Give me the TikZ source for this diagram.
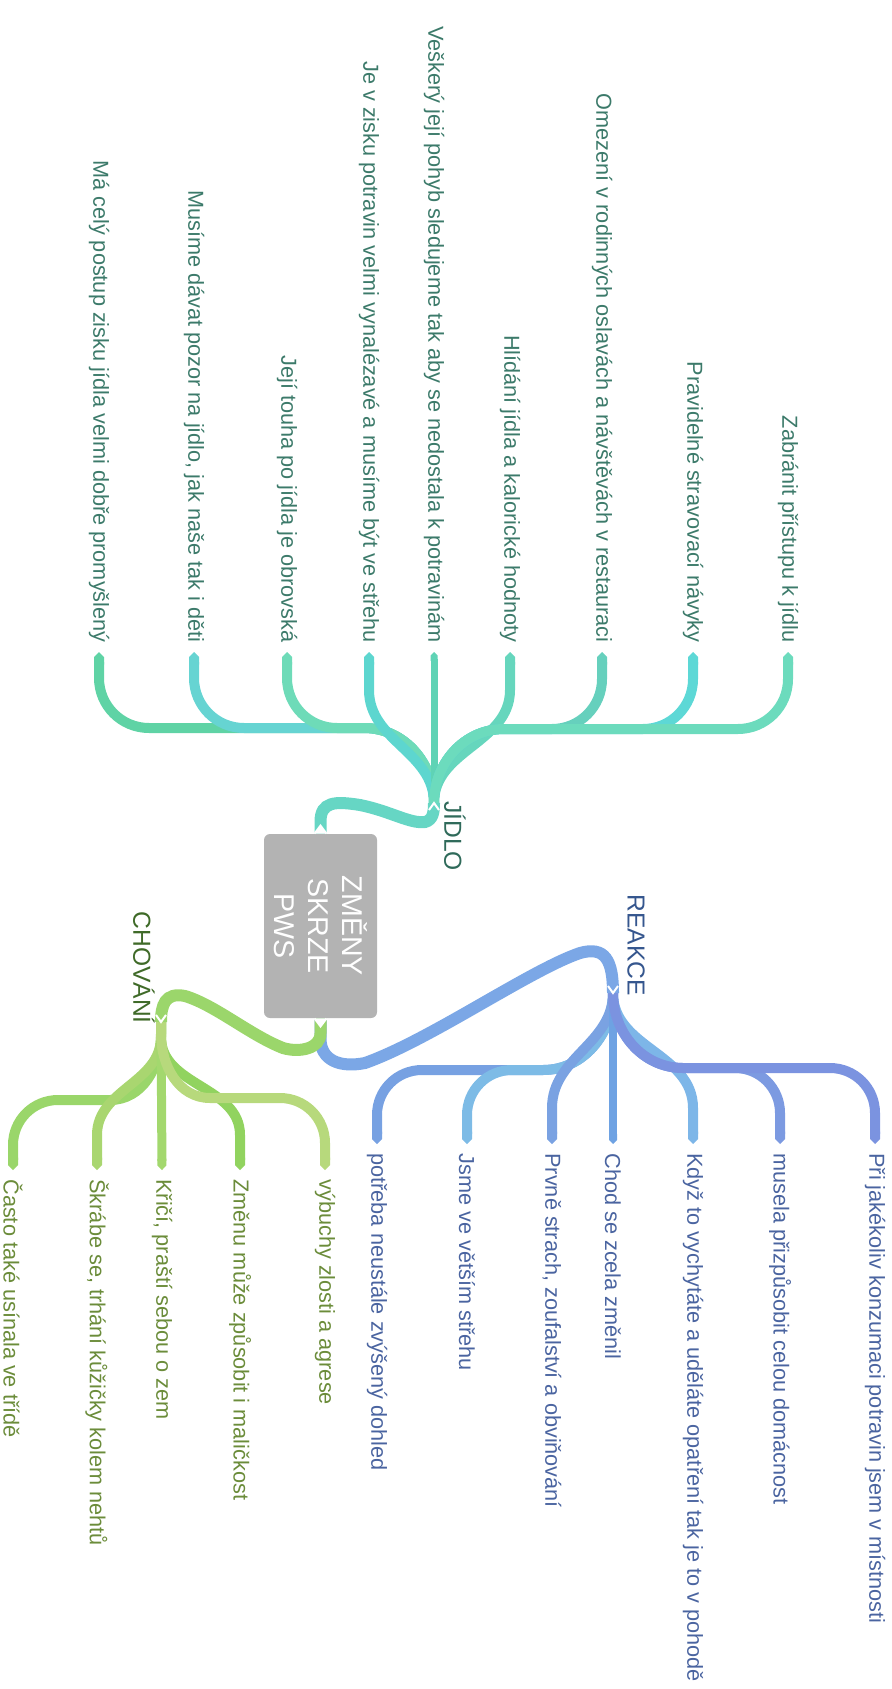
\documentclass[tikz,border=0pt]{standalone}
\usepackage{fontspec}
\setmainfont{Liberation Sans}
\usepackage{xcolor}
\usepackage{tikz}
\usetikzlibrary{arrows.meta}

\definecolor{centregray}{HTML}{B3B3B3}
\definecolor{jidloline}{HTML}{66D6C4}
\definecolor{chovline}{HTML}{9BD66B}
\definecolor{reakline}{HTML}{7BA7E6}
\definecolor{jidlotext}{HTML}{3C7A6A}
\definecolor{jidlolabel}{HTML}{2F6A5A}
\definecolor{chovtext}{HTML}{6B8C3A}
\definecolor{chovlabel}{HTML}{3F6A28}
\definecolor{reaktext}{HTML}{4A64A0}
\definecolor{reaklabel}{HTML}{35568E}
% leaf colours
\definecolor{jA}{HTML}{5FD3A5}\definecolor{jB}{HTML}{66D4D2}\definecolor{jC}{HTML}{6EDBB8}
\definecolor{jD}{HTML}{5DD6CF}\definecolor{jE}{HTML}{5FD3B5}\definecolor{jF}{HTML}{66D6BD}
\definecolor{jG}{HTML}{66D0BD}\definecolor{jH}{HTML}{5DD8D6}\definecolor{jI}{HTML}{6CDBBD}
\definecolor{cA}{HTML}{9AD66A}\definecolor{cB}{HTML}{A9D670}\definecolor{cC}{HTML}{A3D86E}
\definecolor{cD}{HTML}{91D35F}\definecolor{cE}{HTML}{B7D97C}
\definecolor{rA}{HTML}{77A1E2}\definecolor{rB}{HTML}{7DBBE6}\definecolor{rC}{HTML}{7AA2E2}
\definecolor{rD}{HTML}{6EA2E3}\definecolor{rE}{HTML}{7DB6E8}\definecolor{rF}{HTML}{7C9AE1}
\definecolor{rG}{HTML}{7B93E0}

\begin{document}
\begin{tikzpicture}[x=0.5pt, y=0.5pt,
    leaf/.style={line width=5pt, -{Triangle Cap[]}},
    mainline/.style={line width=6pt},
    leaftext/.style={rotate=-90, font=\fontsize{10.85}{13}\selectfont, inner xsep=4.5pt, inner ysep=0pt},
    bigtext/.style={rotate=-90, font=\fontsize{12.3}{14}\selectfont, inner sep=0pt},
    notch/.style={white, line width=1pt}]
    \useasboundingbox (0,0) rectangle (892,-1689);

    \node (centre) [fill=centregray, rounded corners=3pt, rotate=-90, minimum width=92pt, minimum height=56.5pt,
        text=white, align=center, font=\fontsize{14.3}{17}\selectfont] at (320.5,-926) {ZMĚNY\\SKRZE\\PWS};

    \coordinate (jidlo hub) at (434,-803);
    \coordinate (chov hub) at (161,-1022);
    \coordinate (reak hub) at (613,-993);

    \node (jidlo) [bigtext, text=jidlolabel, anchor=west] at (455,-801) {JÍDLO};
    \node (reakce) [bigtext, text=reaklabel, anchor=east] at (636,-996) {REAKCE};
    \node (chovani) [bigtext, text=chovlabel, anchor=east] at (144,-1024) {CHOVÁNÍ};

    % JIDLO
    \foreach \nm/\x/\col/\txt in {j1/99/jA/{Má celý postup zisku jídla velmi dobře promyšlený},
        j2/194/jB/{Musíme dávat pozor na jídlo, jak naše tak i děti},
        j3/287/jC/{Její touha po jídla je obrovská}} {
        \node (\nm) [leaftext, text=jidlotext, anchor=east] at (\x,-652) {\txt};
        \draw[leaf, draw=\col] (jidlo hub) to[out=90,in=0] (364,-728) -- (\x+50,-728) to[out=180,in=-90] (\x,-678) -- (\nm.east);
    }
    \foreach \nm/\x/\col/\txt in {j4/369/jD/{Je v zisku potravin velmi vynalézavé a musíme být ve střehu},
        j6/510/jF/{Hlídání jídla a kalorické hodnoty}} {
        \node (\nm) [leaftext, text=jidlotext, anchor=east] at (\x,-652) {\txt};
        \draw[leaf, draw=\col] (jidlo hub) to[out=90,in=-90] (\x,-690) -- (\nm.east);
    }
    \node (j5) [leaftext, text=jidlotext, anchor=east] at (434,-652) {Veškerý její pohyb sledujeme tak aby se nedostala k potravinám};
    \draw[leaf, draw=jE, line width=3.5pt] (jidlo hub) -- (j5.east);
    \foreach \nm/\x/\col/\txt in {j7/602/jG/{Omezení v rodinných oslavách a návštěvách v restauraci},
        j8/693/jH/{Pravidelné stravovací návyky},
        j9/788/jI/{Zabránit přístupu k jídlu}} {
        \node (\nm) [leaftext, text=jidlotext, anchor=east] at (\x,-652) {\txt};
        \draw[leaf, draw=\col] (jidlo hub) to[out=90,in=180] (504,-729) -- (\x-50,-729) to[out=0,in=-90] (\x,-679) -- (\nm.east);
    }

    % REAKCE
    \foreach \nm/\x/\col/\txt in {r1/377/rA/{potřeba neustále zvýšený dohled},
        r2/467/rB/{Jsme ve větším střehu}} {
        \node (\nm) [leaftext, text=reaktext, anchor=west] at (\x,-1144) {\txt};
        \draw[leaf, draw=\col] (reak hub) to[out=-90,in=0] (543,-1070) -- (\x+45,-1070) to[out=180,in=90] (\x,-1115) -- (\nm.west);
    }
    \foreach \nm/\x/\col/\txt in {r3/552/rC/{Prvně strach, zoufalství a obviňování},
        r5/693/rE/{Když to vychytáte a uděláte opatření tak je to v pohodě}} {
        \node (\nm) [leaftext, text=reaktext, anchor=west] at (\x,-1144) {\txt};
        \draw[leaf, draw=\col] (reak hub) to[out=-90,in=90] (\x,-1108) -- (\nm.west);
    }
    \node (r4) [leaftext, text=reaktext, anchor=west] at (613,-1144) {Chod se zcela změnil};
    \draw[leaf, draw=rD, line width=4pt] (reak hub) -- (r4.west);
    \foreach \nm/\x/\col/\txt in {r6/780/rF/{musela přizpůsobit celou domácnost},
        r7/875/rG/{Při jakékoliv konzumaci potravin jsem v místnosti}} {
        \node (\nm) [leaftext, text=reaktext, anchor=west] at (\x,-1144) {\txt};
        \draw[leaf, draw=\col] (reak hub) to[out=-90,in=180] (683,-1068) -- (\x-45,-1068) to[out=0,in=90] (\x,-1113) -- (\nm.west);
    }

    % CHOVANI
    \node (c1) [leaftext, text=chovtext, anchor=west] at (13,-1170) {Často také usínala ve třídě};
    \draw[leaf, draw=cA] (chov hub) -- ++(0,-12) to[out=-90,in=0] (110,-1100) -- (58,-1100) to[out=180,in=90] (13,-1145) -- (c1.west);
    \foreach \nm/\x/\col/\txt in {c2/97/cB/{Škrábe se, trhání kůžičky kolem nehtů},
        c4/240/cD/{Změnu může způsobit i maličkost}} {
        \node (\nm) [leaftext, text=chovtext, anchor=west] at (\x,-1170) {\txt};
        \draw[leaf, draw=\col] (chov hub) -- ++(0,-15) to[out=-90,in=90] (\x,-1135) -- (\nm.west);
    }
    \node (c3) [leaftext, text=chovtext, anchor=west] at (162,-1170) {Křičí, praští sebou o zem};
    \draw[leaf, draw=cC, line width=4.5pt] (chov hub) -- (c3.west);
    \node (c5) [leaftext, text=chovtext, anchor=west] at (325,-1170) {výbuchy zlosti a agrese};
    \draw[leaf, draw=cE] (chov hub) -- ++(0,-12) to[out=-90,in=180] (210,-1098) -- (280,-1098) to[out=0,in=90] (325,-1143) -- (c5.west);

    % main branches
    \draw[mainline, jidloline] (centre.west) -- ++(0,12) .. controls +(0,20) and (335,-801) .. (360,-805)
        .. controls (390,-811) and (410,-824) .. (425,-822) .. controls (433,-820) and (434,-812) .. (jidlo hub);
    \draw[mainline, reakline] (centre.east) -- ++(0,-20) .. controls +(0,-22) and (340,-1068) .. (365,-1063)
        .. controls (430,-1040) and (530,-970) .. (580,-953) .. controls (605,-946) and (613,-960) .. (reak hub);
    \draw[mainline, chovline] (centre.east) -- ++(0,-15) .. controls +(0,-15) and (300,-1053) .. (283,-1048)
        .. controls (250,-1035) and (215,-1005) .. (185,-996) .. controls (165,-992) and (161,-1005) .. (chov hub);

    % notches
    \filldraw[fill=centregray, notch] (centre.west) ++(-6,0) -- ++(6,8) -- ++(6,-8);
    \filldraw[fill=centregray, notch] (centre.east) ++(-6,0) -- ++(6,-8) -- ++(6,8);
    \draw[notch] (jidlo hub) ++(-5,-7) -- ++(5,7) -- ++(5,-7);
    \draw[notch] (reak hub) ++(-5,7) -- ++(5,-7) -- ++(5,7);
    \draw[notch] (chov hub) ++(-5,7) -- ++(5,-7) -- ++(5,7);
\end{tikzpicture}
\end{document}
